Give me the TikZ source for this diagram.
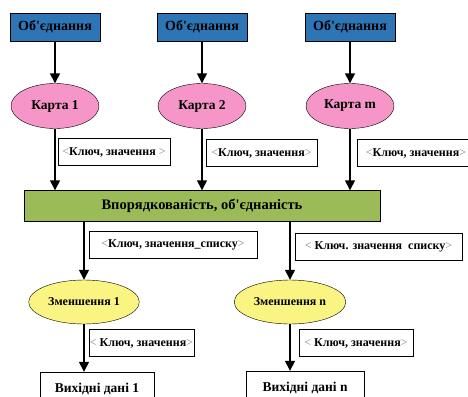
\documentclass[tikz,border=0pt]{standalone}
\usepackage{fontspec}
\setmainfont{Liberation Serif}
\usetikzlibrary{shapes.geometric, arrows.meta}
\definecolor{combblue}{RGB}{46,117,182}
\definecolor{mappink}{RGB}{246,150,200}
\definecolor{sortgreen}{RGB}{155,187,89}
\definecolor{redyellow}{RGB}{250,245,130}
\tikzstyle{combiner} = [rectangle, minimum width=90pt, minimum height=28pt, text centered, draw=black, fill=combblue, font=\fontsize{14}{16}\selectfont\bfseries]
\tikzstyle{mapper} = [ellipse, minimum width=88pt, minimum height=45pt, text centered, draw=black, fill=mappink, font=\fontsize{13.5}{15}\selectfont\bfseries]
\tikzstyle{sorter} = [rectangle, minimum width=356pt, minimum height=31pt, text centered, draw=black, fill=sortgreen, font=\fontsize{14.5}{16}\selectfont\bfseries]
\tikzstyle{reducer} = [ellipse, minimum width=89pt, minimum height=44pt, text centered, draw=black, fill=redyellow, font=\fontsize{12}{14}\selectfont\bfseries]
\tikzstyle{pairbox} = [rectangle, minimum height=27pt, text centered, draw=black, fill=white, inner sep=1pt, font=\fontsize{12}{14}\selectfont\bfseries]
\tikzstyle{outbox} = [rectangle, minimum height=34pt, text centered, draw=black, fill=white, font=\fontsize{13.5}{15}\selectfont\bfseries]
\tikzstyle{arrow} = [line width=1.4pt,->,>={Triangle[length=10pt,width=10pt]}]
\newcommand{\lt}{{\mdseries\color{gray}<}}
\newcommand{\gt}{{\mdseries\color{gray}>}}
\newcommand{\apos}{\textquotesingle}
\begin{document}
\begin{tikzpicture}[x=1pt,y=-1pt]
		\clip (0,0) rectangle (468,396);
		\fill[white] (0,0) rectangle (468,396);
		% combine / map
		\node (comb1) [combiner] at (55,27) {Об\apos єднання};
		\node (comb2) [combiner] at (202,27) {Об\apos єднання};
		\node (comb3) [combiner] at (350,27) {Об\apos єднання};
		\node (map1) [mapper] at (55,106) {Карта 1};
		\node (map2) [mapper] at (202,106) {Карта 2};
		\node (map3) [mapper] at (350,106) {Карта m};
		\node (pair1) [pairbox, minimum width=112pt] at (114,152) {\lt Ключ, значення \gt};
		\node (pair2) [pairbox, minimum width=111pt] at (261.5,153) {\lt Ключ, значення\gt};
		\node (pair3) [pairbox, minimum width=118pt] at (416,153) {\lt Ключ, значення\gt};
		% sort / merge
		\node (sort) [sorter] at (202,206) {Впорядкованість, об\apos єднаність};
		\node (pair4) [pairbox, minimum width=168pt] at (173,244.5) {\lt Ключ, значення\_списку\gt};
		\node (pair5) [pairbox, minimum width=167pt] at (378.5,246.5) {\lt\ Ключ. значення\ \ списку\gt};
		% reduce
		\node (red1) [reducer] at (84,302) {Зменшення 1};
		\node (red2) [reducer] at (290,302) {Зменшення n};
		\node (pair6) [pairbox, minimum width=105pt] at (141.5,343) {\lt\ Ключ, значення\gt};
		\node (pair7) [pairbox, minimum width=114pt] at (356,343) {\lt\ Ключ, значення\gt};
		\node (out1) [outbox, minimum width=114pt] at (97,389) {Вихідні дані 1};
		\node (out2) [outbox, minimum width=118pt] at (305,388) {Вихідні дані n};

		\draw [arrow] (comb1) -- (map1);
		\draw [arrow] (comb2) -- (map2);
		\draw [arrow] (comb3) -- (map3);
		\draw [arrow] (map1) -- (map1 |- sort.north);
		\draw [arrow] (map2) -- (map2 |- sort.north);
		\draw [arrow] (map3) -- (map3 |- sort.north);
		\draw [arrow] (red1 |- sort.south) -- (red1);
		\draw [arrow] (red2 |- sort.south) -- (red2);
		\draw [arrow] (red1) -- (out1.north -| red1);
		\draw [arrow] (red2) -- (out2.north -| red2);
\end{tikzpicture}
\end{document}
